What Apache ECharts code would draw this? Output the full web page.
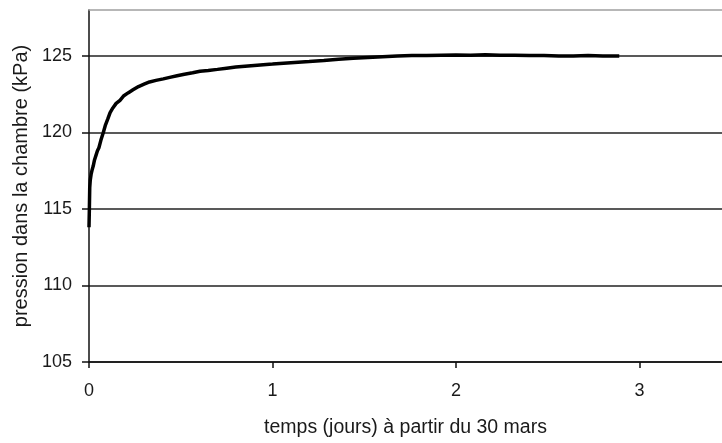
<!DOCTYPE html>
<html>
<head>
<meta charset="utf-8">
<script src="https://cdn.jsdelivr.net/npm/echarts@6/dist/echarts.min.js"></script>
<style>
html,body{margin:0;padding:0;background:#fff;}
#c{width:722px;height:443px;}
</style>
</head>
<body>
<div id="c"></div>
<script>
// time in days since 30 March
var days = [0.000, 0.002, 0.004, 0.007, 0.012, 0.018, 0.023, 0.030, 0.038, 0.046, 0.054, 0.065, 0.078, 0.090, 0.103, 0.115, 0.130, 0.148, 0.169, 0.190, 0.215, 0.242, 0.270, 0.300, 0.330, 0.365, 0.405, 0.440, 0.480, 0.520, 0.565, 0.605, 0.650, 0.700, 0.750, 0.800, 0.850, 0.900, 0.950, 1.000, 1.060, 1.120, 1.200, 1.280, 1.360, 1.440, 1.520, 1.600, 1.680, 1.760, 1.840, 1.920, 2.000, 2.080, 2.160, 2.240, 2.320, 2.400, 2.480, 2.560, 2.640, 2.720, 2.800, 2.890];
// pressure in the chamber (kPa)
var pression = [113.8, 115.0, 116.4, 116.9, 117.3, 117.6, 117.8, 118.2, 118.5, 118.8, 119.0, 119.5, 120.0, 120.5, 120.9, 121.3, 121.6, 121.9, 122.1, 122.4, 122.6, 122.8, 123.0, 123.15, 123.3, 123.4, 123.5, 123.6, 123.7, 123.8, 123.9, 124.0, 124.05, 124.12, 124.2, 124.27, 124.33, 124.38, 124.43, 124.47, 124.52, 124.57, 124.63, 124.7, 124.78, 124.84, 124.9, 124.95, 125.0, 125.02, 125.03, 125.05, 125.06, 125.05, 125.08, 125.04, 125.05, 125.02, 125.03, 124.99, 125.0, 125.02, 125.0, 125.0];
var xTicks = [0, 1, 2, 3];
var yTicks = [105, 110, 115, 120, 125];
var xTitle = 'temps (jours) à partir du 30 mars';
var yTitle = 'pression dans la chambre (kPa)';

var pts = days.map(function (d, i) { return [d, pression[i]]; });
var chart = echarts.init(document.getElementById('c'), null, {renderer: 'canvas'});
var font = '"Liberation Sans", Arial, sans-serif';
chart.setOption({
  animation: false,
  grid: {left: 89, right: 0, top: 10, bottom: 79, containLabel: false},
  xAxis: [{
    type: 'value', min: 0, max: 3.45, interval: 1,
    name: xTitle, nameLocation: 'middle', nameGap: 56,
    nameTextStyle: {fontFamily: font, fontSize: 19.5, color: '#1a1a1a'},
    axisLine: {show: true, onZero: false, lineStyle: {color: '#111', width: 1.5}},
    axisTick: {show: true, length: 6, customValues: xTicks, lineStyle: {color: '#111', width: 1.5}},
    axisLabel: {customValues: xTicks, margin: 20, fontFamily: font, fontSize: 18, color: '#1a1a1a'},
    splitLine: {show: false}
  }, {
    type: 'value', position: 'top', min: 0, max: 3.45,
    axisLine: {show: true, lineStyle: {color: '#a0a0a0', width: 1.5}},
    axisTick: {show: false}, axisLabel: {show: false}, splitLine: {show: false}
  }],
  yAxis: {
    type: 'value', min: 105, max: 128, interval: 5,
    name: yTitle, nameLocation: 'middle', nameGap: 55,
    nameTextStyle: {fontFamily: font, fontSize: 20, color: '#1a1a1a'},
    axisLine: {show: true, onZero: false, lineStyle: {color: '#111', width: 1.5}},
    axisTick: {show: true, length: 7, customValues: yTicks, lineStyle: {color: '#111', width: 1.5}},
    axisLabel: {customValues: yTicks, margin: 17, fontFamily: font, fontSize: 18, color: '#1a1a1a'},
    splitLine: {show: true, lineStyle: {color: '#222', width: 1.5}}
  },
  series: [{
    type: 'line', data: pts, showSymbol: false, smooth: false,
    lineStyle: {color: '#000', width: 3.5}, z: 5
  }]
});
</script>
</body>
</html>
